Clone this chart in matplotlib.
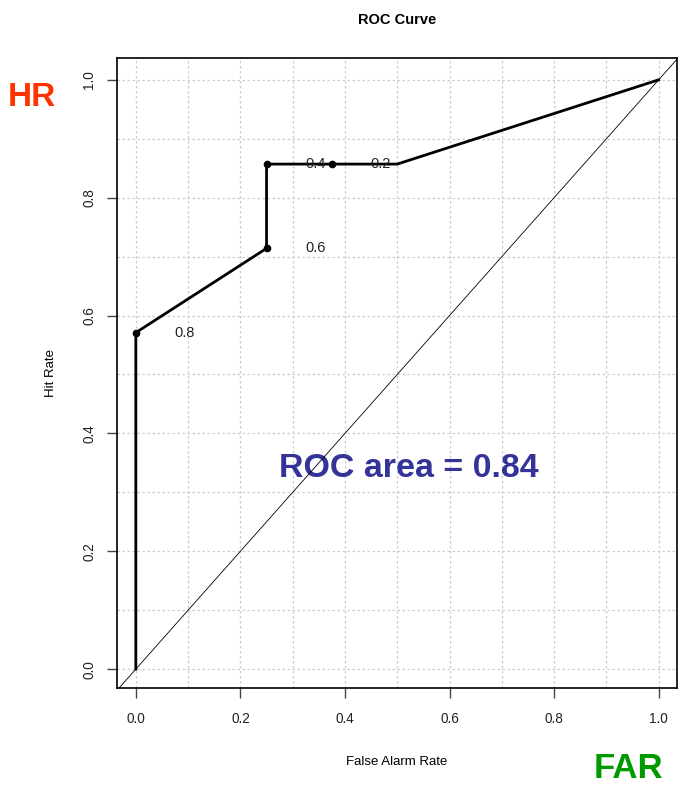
import matplotlib
matplotlib.use("Agg")
import matplotlib.pyplot as plt
import numpy as np

plt.rcParams['font.family'] = ['Liberation Sans', 'DejaVu Sans']

# ROC curve data
far = [0.0, 0.0, 0.25, 0.25, 0.375, 0.5, 1.0]
hr = [0.0, 0.571, 0.714, 0.857, 0.857, 0.857, 1.0]
# threshold points and labels
pt_far = [0.0, 0.25, 0.25, 0.375]
pt_hr = [0.571, 0.714, 0.857, 0.857]
pt_labels = ["0.8", "0.6", "0.4", "0.2"]
roc_area = 0.84
ticks = [0.0, 0.2, 0.4, 0.6, 0.8, 1.0]
tick_labels = ["0.0", "0.2", "0.4", "0.6", "0.8", "1.0"]

fig = plt.figure(figsize=(6.86, 7.87), dpi=100)
ax = fig.add_axes([117/686, 1-688/787, (677-117)/686, (688-58)/787])
ax.set_xlim(-0.036, 1.035)
ax.set_ylim(-0.032, 1.037)

grid = np.arange(0, 1.01, 0.1)
for g in grid:
    ax.axvline(g, color='#cccccc', lw=0.9, ls=(0, (2, 2)), zorder=0)
    ax.axhline(g, color='#cccccc', lw=0.9, ls=(0, (2, 2)), zorder=0)

ax.plot(far, hr, color='black', lw=2, zorder=3)
ax.plot(pt_far, pt_hr, 'o', color='black', ms=4.5, zorder=4)
for x, y, t in zip(pt_far, pt_hr, pt_labels):
    ax.text(x + 0.094, y, t, ha='center', va='center', fontsize=10.5, color='#222222', zorder=5)

ax.text(0.523, 0.341, f"ROC area = {roc_area:.2f}", ha='center', va='center',
        fontsize=24.5, fontweight='bold', color='#333399', zorder=2)
ax.plot([-0.1, 1.1], [-0.1, 1.1], color='black', lw=0.6, zorder=3)

ax.set_xticks(ticks)
ax.set_xticklabels(tick_labels)
ax.set_yticks(ticks)
ax.set_yticklabels(tick_labels, rotation=90, va='center')
ax.tick_params(axis='both', length=7, width=1, color='#444444', labelsize=9.8,
               labelcolor='#222222')
ax.tick_params(axis='x', pad=10)
ax.tick_params(axis='y', pad=8)
for s in ax.spines.values():
    s.set_linewidth(1.2)

ax.set_xlabel("False Alarm Rate", fontsize=9.5, labelpad=22)
ax.set_ylabel("Hit Rate", fontsize=9.5, labelpad=18)
fig.text(397/686, 1-20/787, "ROC Curve", ha='center', va='center', fontsize=10.5, fontweight='bold')

fig.text(32/686, 1-98/787, "HR", ha='center', va='center', fontsize=24, fontweight='bold', color='#ff3300')
fig.text(628/686, 1-768/787, "FAR", ha='center', va='center', fontsize=25, fontweight='bold', color='#009900')

fig.savefig("out.png", dpi=100)
